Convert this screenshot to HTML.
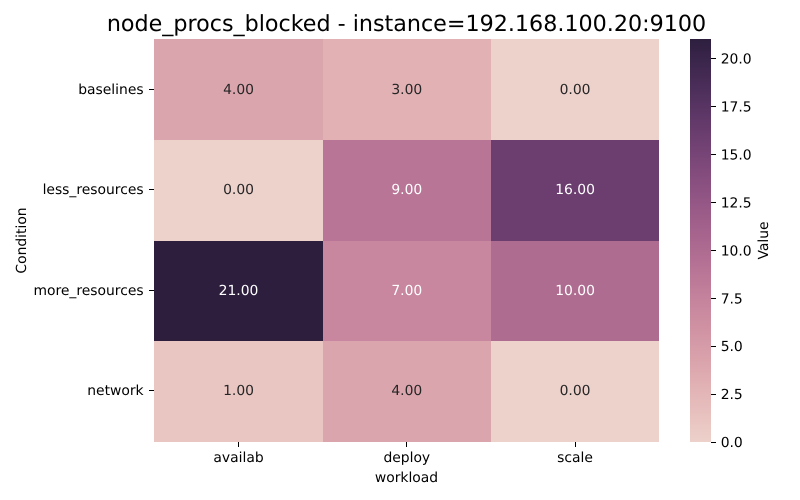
<!DOCTYPE html>
<html lang="en">
<head>
<meta charset="utf-8">
<title>node_procs_blocked heatmap</title>
<style>
html,body{margin:0;padding:0;background:#fff;width:800px;height:500px;overflow:hidden}
svg{display:block}
text{font-family:"DejaVu Sans","Liberation Sans",sans-serif;font-size:13.89px;fill:#000;text-rendering:geometricPrecision}
</style>
</head>
<body>
<svg id="chart" xmlns="http://www.w3.org/2000/svg" width="800" height="500" viewBox="0 0 800 500" shape-rendering="crispEdges">
<text x="406.5" y="31" text-anchor="middle" style="font-size:22.22px">node_procs_blocked - instance=192.168.100.20:9100</text>
<text x="406.5" y="482" text-anchor="middle">workload</text>
<text transform="translate(26,240.5) rotate(-90)" text-anchor="middle">Condition</text>
<text transform="translate(768,240.5) rotate(-90)" text-anchor="middle">Value</text>
<g id="cells"></g>
<g id="xticks"></g>
<g id="yticks"></g>
<g id="cbar"></g>
<g id="cticks"></g>
</svg>
<script>
const workloads = ['availab', 'deploy', 'scale'];
const conditions = ['baselines', 'less_resources', 'more_resources', 'network'];
const baselinesValues = [4, 3, 0];
const lessResourcesValues = [0, 9, 16];
const moreResourcesValues = [21, 7, 10];
const networkValues = [1, 4, 0];
const colorbarTicks = [0, 2.5, 5, 7.5, 10, 12.5, 15, 17.5, 20];

const rows = [baselinesValues, lessResourcesValues, moreResourcesValues, networkValues];
const plot = {left: 154.4, right: 659.2, top: 39, bottom: 442};
const tickBand = {top: 38.9, bottom: 440.9};
const bar = {left: 690, right: 711};
const NS = 'http://www.w3.org/2000/svg';
const vMin = 0;
const vMax = Math.max(...rows.flat());

function xEdge(i) { return Math.round(plot.left + (plot.right - plot.left) * i / workloads.length); }
function yEdge(i) { return Math.round(plot.top + (plot.bottom - plot.top) * i / conditions.length); }
function xCenter(i) { return plot.left + (plot.right - plot.left) * (i + 0.5) / workloads.length; }
function yCenter(i) { return tickBand.top + (tickBand.bottom - tickBand.top) * (i + 0.5) / conditions.length; }
function cbarY(v) { return plot.bottom - (plot.bottom - plot.top) * (v - vMin) / (vMax - vMin); }

// seaborn cubehelix_palette(as_cmap=True): light .85 -> dark .15
function channel(x, p0, p1) {
  const a = 0.8 * x * (1 - x) / 2;
  const phi = 2 * Math.PI * (0.4 * x);
  return Math.round(255 * Math.min(1, Math.max(0, x + a * (p0 * Math.cos(phi) + p1 * Math.sin(phi)))));
}
function rgbAt(t) {
  const q = Math.round(t * 255) / 255;
  const x = 0.85 + (0.15 - 0.85) * q;
  return [channel(x, -0.14861, 1.78277), channel(x, -0.29227, -0.90649), channel(x, 1.97294, 0)];
}
function colorFor(v) {
  const c = rgbAt((v - vMin) / (vMax - vMin));
  return 'rgb(' + c.join(',') + ')';
}
function isDark(v) {
  const c = rgbAt((v - vMin) / (vMax - vMin)).map(function (u) {
    const s = u / 255;
    return s <= 0.03928 ? s / 12.92 : Math.pow((s + 0.055) / 1.055, 2.4);
  });
  return 0.2126 * c[0] + 0.7152 * c[1] + 0.0722 * c[2] < 0.408;
}
function make(tag, attrs, parent, content) {
  const el = document.createElementNS(NS, tag);
  Object.keys(attrs).forEach(function (k) { el.setAttribute(k, attrs[k]); });
  if (content !== undefined) el.textContent = content;
  parent.appendChild(el);
  return el;
}

const cellsG = document.getElementById('cells');
rows.forEach(function (row, r) {
  row.forEach(function (v, c) {
    const rect = make('rect', {x: xEdge(c), y: yEdge(r), width: xEdge(c + 1) - xEdge(c), height: yEdge(r + 1) - yEdge(r), fill: colorFor(v)}, cellsG);
    
    
    const label = make('text', {x: xCenter(c), y: Math.round(yCenter(r) + 4.6), 'text-anchor': 'middle', style: 'font-size:13.89px;fill:' + (isDark(v) ? '#ffffff' : '#262626')}, cellsG, v.toFixed(2));
    
    
  });
});

const xG = document.getElementById('xticks');
workloads.forEach(function (name, i) {
  const x = Math.floor(xCenter(i));
  const tick = make('rect', {x: x, y: plot.bottom, width: 1, height: 5, fill: '#000'}, xG);
  
  
  const label = make('text', {x: xCenter(i), y: plot.bottom + 20, 'text-anchor': 'middle'}, xG, name);
  
  
});

const yG = document.getElementById('yticks');
conditions.forEach(function (name, i) {
  const y = Math.floor(yCenter(i));
  const tick = make('rect', {x: 149, y: y, width: 5, height: 1, fill: '#000'}, yG);
  
  
  const label = make('text', {x: 143.6, y: Math.round(yCenter(i) + 4.6), 'text-anchor': 'end'}, yG, name);
  
  
});

const barG = document.getElementById('cbar');
const barPx = plot.bottom - plot.top;
for (let i = 0; i < barPx; i++) {
  const t = (i + 0.5) / barPx;
  const seg = make('rect', {x: bar.left, y: plot.bottom - i - 1, width: bar.right - bar.left, height: 1, fill: colorFor(vMin + t * (vMax - vMin))}, barG);
  
  
}

const cG = document.getElementById('cticks');
colorbarTicks.forEach(function (v) {
  const y = cbarY(v);
  const tick = make('rect', {x: bar.right, y: Math.floor(y), width: 5, height: 1, fill: '#000'}, cG);
  
  
  const label = make('text', {x: bar.right + 9.7, y: y + 5.2}, cG, v.toFixed(1));
  
  
});
</script>
</body>
</html>
